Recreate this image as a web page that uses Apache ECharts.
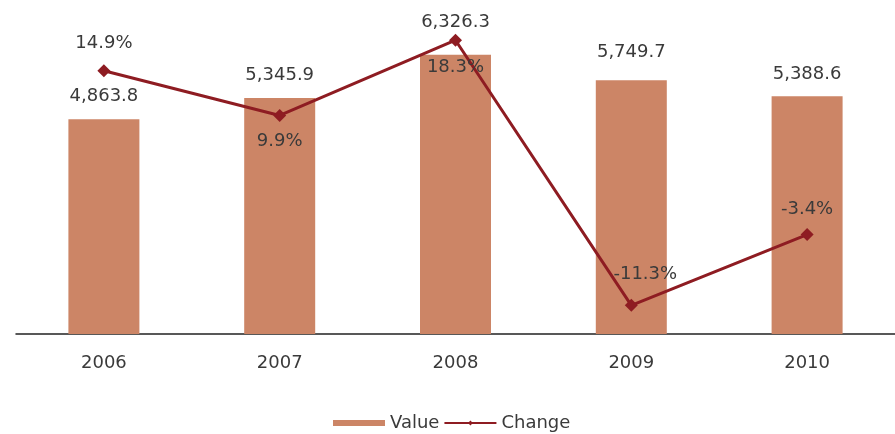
<!DOCTYPE html>
<html><head><meta charset="utf-8">
<script src="https://cdn.jsdelivr.net/npm/echarts@6/dist/echarts.min.js"></script>
<style>html,body{margin:0;padding:0;background:#fff}#c{width:895px;height:434px}</style>
</head><body><div id="c"></div>
<script>
var categories = ['2006', '2007', '2008', '2009', '2010'];
var values = [4863.8, 5345.9, 6326.3, 5749.7, 5388.6];
var changes = [14.9, 9.9, 18.3, -11.3, -3.4];

// label placement (style only)
var changePos = ['top', 'bottom', 'bottom', 'top', 'top'];
var changeDist = [12, 10, 12, 16, 10];
var changeOffsetX = [0, 0, 0, 14, 0];
var valueDist = [14, 14, 23, 19, 13];

var chart = echarts.init(document.getElementById('c'));
var fontFam = '"DejaVu Sans", sans-serif';
chart.setOption({
  animation: false,
  grid: { left: 16, width: 881, top: 25, bottom: 100 },
  legend: {
    top: 409, left: 328,
    itemGap: 4, itemWidth: 52, itemHeight: 6,
    textStyle: { fontFamily: fontFam, fontSize: 18, color: '#3a3a3a' },
    data: [
      { name: 'Value', icon: 'rect' },
      { name: 'Change' }
    ]
  },
  xAxis: {
    type: 'category', data: categories,
    axisLine: { lineStyle: { color: '#222', width: 1.5 } },
    axisTick: { show: false },
    axisLabel: { fontFamily: fontFam, fontSize: 18, color: '#3a3a3a', margin: 20 }
  },
  yAxis: [
    { type: 'value', min: 0, max: 7000, show: false, splitLine: { show: false } },
    { type: 'value', min: -14.5, max: 20, show: false, splitLine: { show: false } }
  ],
  series: [
    {
      name: 'Value', type: 'bar', barWidth: 71, yAxisIndex: 0,
      itemStyle: { color: '#cc8566' },
      data: values.map(function (v, i) {
        return { value: v, label: { distance: valueDist[i] } };
      }),
      label: {
        show: true, position: 'top',
        fontFamily: fontFam, fontSize: 18, color: '#3a3a3a',
        formatter: function (p) {
          return p.value.toLocaleString('en-US', { minimumFractionDigits: 1, maximumFractionDigits: 1 });
        }
      }
    },
    {
      name: 'Change', type: 'line', yAxisIndex: 1, z: 5,
      symbol: 'diamond', symbolSize: 13,
      lineStyle: { color: '#8e1c22', width: 3 },
      itemStyle: { color: '#8e1c22' },
      data: changes.map(function (v, i) {
        return { value: v, label: { position: changePos[i], distance: changeDist[i], offset: [changeOffsetX[i], 0] } };
      }),
      label: {
        show: true,
        fontFamily: fontFam, fontSize: 18, color: '#3a3a3a',
        formatter: function (p) { return p.value.toFixed(1) + '%'; }
      }
    }
  ]
});
</script></body></html>
